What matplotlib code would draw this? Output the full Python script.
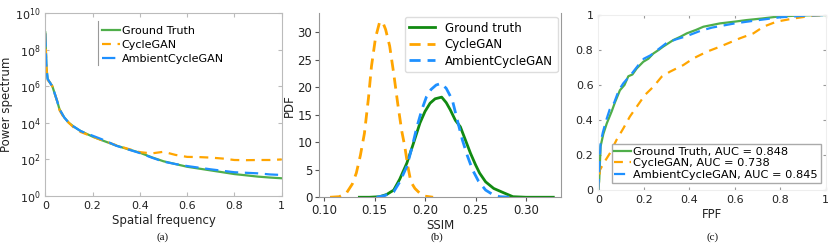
import matplotlib
matplotlib.use("Agg")
import matplotlib.pyplot as plt
import numpy as np
from matplotlib.ticker import LogLocator, NullFormatter

# ---------------- data ----------------
# (a) power spectrum (log10 values)
ps_freq = [0, 0.005, 0.01, 0.02, 0.03, 0.04, 0.05, 0.06, 0.08, 0.1, 0.12, 0.15, 0.2,
           0.25, 0.3, 0.35, 0.4, 0.45, 0.5, 0.55, 0.6, 0.65, 0.7, 0.75, 0.8, 0.85,
           0.9, 0.95, 1.0]
ps_gt_log = [8.95, 7.0, 6.4, 6.2, 6.0, 5.6, 5.2, 4.75, 4.3, 4.0, 3.8, 3.55, 3.25,
             3.0, 2.76, 2.56, 2.37, 2.12, 1.9, 1.75, 1.6, 1.5, 1.4, 1.3, 1.2, 1.13,
             1.06, 1.01, 0.97]
ps_cyc_log = [8.9, 7.0, 6.35, 6.2, 6.0, 5.6, 5.2, 4.7, 4.25, 4.0, 3.75, 3.5, 3.25,
              3.0, 2.78, 2.58, 2.4, 2.33, 2.42, 2.25, 2.14, 2.13, 2.1, 2.05, 1.97, 1.96,
              1.97, 1.97, 2.0]
ps_amb_log = [8.9, 7.0, 6.4, 6.2, 6.0, 5.6, 5.2, 4.75, 4.3, 4.0, 3.8, 3.55, 3.3,
              3.05, 2.75, 2.55, 2.35, 2.1, 1.88, 1.75, 1.64, 1.55, 1.46, 1.38, 1.3, 1.27,
              1.24, 1.18, 1.15]

# (b) SSIM PDFs
ssim_cyc_x = [0.106, 0.115, 0.122, 0.128, 0.132, 0.136, 0.14, 0.144, 0.147, 0.151, 0.155,
              0.158, 0.161, 0.165, 0.169, 0.173, 0.177, 0.18, 0.183, 0.186, 0.19, 0.195,
              0.2, 0.208]
ssim_cyc_y = [0.0, 0.1, 0.7, 2.4, 4.4, 7.6, 11.6, 18.0, 23.8, 29.0, 31.8, 31.9, 30.5,
              27.5, 22.5, 17.0, 12.0, 9.2, 5.6, 2.8, 1.6, 0.7, 0.2, 0.0]
ssim_gt_x = [0.135, 0.145, 0.155, 0.162, 0.169, 0.175, 0.182, 0.188, 0.195, 0.2, 0.205,
             0.21, 0.2165, 0.221, 0.225, 0.23, 0.235, 0.24, 0.245, 0.25, 0.254, 0.26,
             0.268, 0.278, 0.287, 0.3, 0.327]
ssim_gt_y = [0.0, 0.0, 0.1, 0.5, 1.3, 3.3, 6.2, 9.5, 13.5, 15.6, 17.1, 17.9, 18.2, 17.2,
             15.9, 14.0, 12.8, 10.4, 8.0, 5.9, 4.4, 2.8, 1.6, 0.8, 0.1, 0.0, 0.0]
ssim_amb_x = [0.152, 0.16, 0.169, 0.175, 0.182, 0.187, 0.192, 0.197, 0.2015, 0.206, 0.211,
              0.216, 0.221, 0.227, 0.232, 0.237, 0.242, 0.247, 0.253, 0.26, 0.267, 0.274,
              0.285]
ssim_amb_y = [0.0, 0.3, 1.0, 2.8, 5.6, 9.0, 12.8, 16.0, 18.3, 19.6, 20.4, 20.7, 19.8,
              17.7, 14.0, 10.4, 7.5, 5.0, 2.9, 1.3, 0.5, 0.1, 0.0]

# (c) ROC curves
roc_gt_fpf = [0, 0.004, 0.01, 0.022, 0.037, 0.059, 0.073, 0.095, 0.115, 0.132, 0.15, 0.169,
              0.198, 0.22, 0.242, 0.265, 0.286, 0.33, 0.36, 0.389, 0.43, 0.462, 0.535,
              0.6, 0.652, 0.72, 0.784, 0.85, 0.92, 1.0]
roc_gt_tpf = [0, 0.057, 0.25, 0.32, 0.38, 0.45, 0.5, 0.57, 0.6, 0.65, 0.66, 0.695,
              0.733, 0.75, 0.78, 0.8, 0.82, 0.857, 0.875, 0.895, 0.915, 0.933, 0.952,
              0.962, 0.971, 0.98, 0.99, 0.995, 0.998, 1.0]
roc_cyc_fpf = [0, 0.007, 0.022, 0.051, 0.08, 0.11, 0.139, 0.169, 0.205, 0.242, 0.279,
               0.315, 0.374, 0.418, 0.477, 0.535, 0.623, 0.682, 0.726, 0.784, 0.858,
               0.931, 1.0]
roc_cyc_tpf = [0, 0.114, 0.15, 0.21, 0.286, 0.352, 0.42, 0.476, 0.543, 0.59, 0.648,
               0.676, 0.714, 0.752, 0.79, 0.819, 0.867, 0.895, 0.933, 0.962, 0.98,
               0.994, 1.0]
roc_amb_fpf = [0, 0.004, 0.01, 0.02, 0.035, 0.05, 0.07, 0.09, 0.11, 0.13, 0.15, 0.18,
               0.2, 0.23, 0.26, 0.3, 0.34, 0.39, 0.45, 0.5, 0.6, 0.7, 0.8, 0.9, 1.0]
roc_amb_tpf = [0, 0.1, 0.27, 0.33, 0.4, 0.46, 0.5, 0.57, 0.61, 0.64, 0.67, 0.72,
               0.75, 0.77, 0.8, 0.84, 0.86, 0.88, 0.91, 0.928, 0.952, 0.97, 0.987,
               0.995, 1.0]

labels_a = ["Ground Truth", "CycleGAN", "AmbientCycleGAN"]
labels_b = ["Ground truth", "CycleGAN", "AmbientCycleGAN"]
labels_c = ["Ground Truth, AUC = 0.848", "CycleGAN, AUC = 0.738",
            "AmbientCycleGAN, AUC = 0.845"]

# ---------------- style ----------------
GREEN_L = "#4fae4a"
GREEN_D = "#118a11"
ORANGE = "#ffa500"
BLUE = "#1e90ff"
SPINE = "#bbbbbb"
TXT = "#222222"

plt.rcParams["font.family"] = ["DejaVu Sans"]

fig = plt.figure(figsize=(8.31, 2.5), dpi=100)

# ---------------- (a) ----------------
axa = fig.add_axes([0.0545, 0.216, 0.2845, 0.731])
axa.plot(ps_freq, 10 ** np.array(ps_gt_log), color=GREEN_L, lw=1.6, label=labels_a[0])
axa.plot(ps_freq, 10 ** np.array(ps_cyc_log), color=ORANGE, lw=1.6, ls=(0, (4, 3)), label=labels_a[1])
axa.plot(ps_freq, 10 ** np.array(ps_amb_log), color=BLUE, lw=1.6, ls=(0, (6, 3)), label=labels_a[2])
axa.set_yscale("log")
axa.set_xlim(0, 1)
axa.set_ylim(1, 1e10)
axa.set_yticks([1, 1e2, 1e4, 1e6, 1e8, 1e10])
axa.yaxis.set_minor_locator(LogLocator(base=10, subs=np.arange(2, 10)))
axa.yaxis.set_minor_formatter(NullFormatter())
axa.set_xticks([0, 0.2, 0.4, 0.6, 0.8, 1.0])
axa.set_xticklabels(["0", "0.2", "0.4", "0.6", "0.8", "1"])
axa.tick_params(which="both", direction="in", top=True, right=True, colors=SPINE,
                labelcolor=TXT, labelsize=8)
axa.tick_params(which="major", length=3)
axa.tick_params(which="minor", length=1.5)
for s in axa.spines.values():
    s.set_color(SPINE)
axa.set_xlabel("Spatial frequency", fontsize=8.5, color=TXT, labelpad=2)
axa.set_ylabel("Power spectrum", fontsize=8.5, color=TXT, labelpad=1)
axa.legend(loc="upper left", bbox_to_anchor=(0.22, 0.955), frameon=False, fontsize=8,
           handlelength=1.6, handletextpad=0.2, labelspacing=0.35, borderaxespad=0)
axa.plot([0.223, 0.223], [0.717, 0.958], transform=axa.transAxes, color="#999999", lw=0.8,
         clip_on=False)

# ---------------- (b) ----------------
axb = fig.add_axes([0.3843, 0.211, 0.2909, 0.736])
axb.plot(ssim_gt_x, ssim_gt_y, color=GREEN_D, lw=2.0, label=labels_b[0])
axb.plot(ssim_cyc_x, ssim_cyc_y, color=ORANGE, lw=2.0, ls=(0, (4, 2.5)), label=labels_b[1])
axb.plot(ssim_amb_x, ssim_amb_y, color=BLUE, lw=2.0, ls=(0, (4, 2.5)), label=labels_b[2])
axb.set_xlim(0.0954, 0.3347)
axb.set_ylim(0, 33.45)
axb.set_xticks([0.10, 0.15, 0.20, 0.25, 0.30])
axb.set_xticklabels(["0.10", "0.15", "0.20", "0.25", "0.30"])
axb.set_yticks([0, 5, 10, 15, 20, 25, 30])
axb.tick_params(labelsize=8.5, length=3, colors="#555555", labelcolor=TXT, pad=2)
axb.spines["top"].set_visible(False)
for k in ["left", "bottom", "right"]:
    axb.spines[k].set_color("#999999")
axb.set_xlabel("SSIM", fontsize=8.5, color=TXT, labelpad=1)
axb.set_ylabel("PDF", fontsize=8.5, color=TXT, labelpad=1)
axb.legend(loc="upper right", fontsize=8.5, handlelength=2.2, labelspacing=0.3,
           borderaxespad=0.3, framealpha=1, edgecolor="#dddddd")

# ---------------- (c) ----------------
axc = fig.add_axes([0.72, 0.24, 0.2736, 0.70])
axc.plot(roc_gt_fpf, roc_gt_tpf, color=GREEN_L, lw=1.6, label=labels_c[0])
axc.plot(roc_cyc_fpf, roc_cyc_tpf, color=ORANGE, lw=1.6, ls=(0, (4, 3)), label=labels_c[1])
axc.plot(roc_amb_fpf, roc_amb_tpf, color=BLUE, lw=1.6, ls=(0, (5, 3)), label=labels_c[2])
axc.set_xlim(0, 1)
axc.set_ylim(0, 1)
axc.set_xticks([0, 0.2, 0.4, 0.6, 0.8, 1.0])
axc.set_xticklabels(["0", "0.2", "0.4", "0.6", "0.8", "1"])
axc.set_yticks([0, 0.2, 0.4, 0.6, 0.8, 1.0])
axc.set_yticklabels(["0", "0.2", "0.4", "0.6", "0.8", "1"])
axc.tick_params(direction="in", top=True, right=True, length=2.5, colors="#999999",
                labelcolor=TXT, labelsize=8)
for s in axc.spines.values():
    s.set_color("#eeeeee")
axc.set_xlabel("FPF", fontsize=8.5, color=TXT, labelpad=2)
axc.legend(loc="lower right", bbox_to_anchor=(0.978, 0.04), fontsize=8.2,
           handlelength=1.5, handletextpad=0.15, labelspacing=0.15, borderaxespad=0,
           borderpad=0.25, fancybox=False, framealpha=1, edgecolor="#aaaaaa")

# ---------------- captions ----------------
cap = dict(fontsize=8, family="Liberation Serif", ha="center", va="center", color="#111111")
fig.text(163 / 831, 1 - 237 / 250, "(a)", **cap)
fig.text(437 / 831, 1 - 237 / 250, "(b)", **cap)
fig.text(713 / 831, 1 - 237 / 250, "(c)", **cap)

fig.savefig("out.png", dpi=100)
